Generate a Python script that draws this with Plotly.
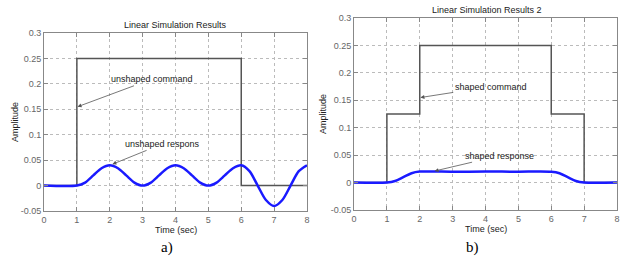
import plotly.graph_objects as go

# ---- data ----
cmd_t_a = [0, 1, 6, 8]
cmd_v_a = [0, 0.25, 0, 0]

resp_t = [0, 1, 1.25, 1.5, 1.75, 2, 2.25, 2.5, 2.75, 3, 3.25, 3.5, 3.75, 4,
          4.25, 4.5, 4.75, 5, 5.25, 5.5, 5.75, 6, 6.25, 6.5, 6.75, 7,
          7.25, 7.5, 7.75, 8]
resp_a = [0, 0, 0.0059, 0.02, 0.0341, 0.04, 0.0341, 0.02, 0.0059, 0, 0.0059, 0.02, 0.0341, 0.04,
          0.0341, 0.02, 0.0059, 0, 0.0059, 0.02, 0.0341, 0.04, 0.0283, 0, -0.0283, -0.04,
          -0.0283, 0, 0.0283, 0.04]

cmd_t_b = [0, 1, 2, 6, 7, 8]
cmd_v_b = [0, 0.125, 0.25, 0.125, 0, 0]

resp_t_b = [0, 1, 1.25, 1.5, 1.75, 2, 3, 4, 5, 6, 6.25, 6.5, 6.75, 7, 8]
resp_b = [0, 0, 0.0029, 0.01, 0.0171, 0.02, 0.0198, 0.02, 0.0199, 0.0198, 0.0171, 0.01, 0.0029, 0, 0]

x_ticks = [0, 1, 2, 3, 4, 5, 6, 7, 8]
y_ticks = [-0.05, 0, 0.05, 0.1, 0.15, 0.2, 0.25, 0.3]
y_tick_text = ["-0.05", "0", "0.05", "0.1", "0.15", "0.2", "0.25", "0.3"]

CMD_COLOR = "#555555"
RESP_COLOR = "#1a1aff"
FONT = "Arial, Liberation Sans, sans-serif"

fig = go.Figure()
fig.add_trace(go.Scatter(x=cmd_t_a, y=cmd_v_a, mode="lines", line=dict(color=CMD_COLOR, width=1.5, shape="hv"),
                         xaxis="x", yaxis="y", showlegend=False))
fig.add_trace(go.Scatter(x=resp_t, y=resp_a, mode="lines", line=dict(color=RESP_COLOR, width=2.5, shape="spline", smoothing=0.8),
                         xaxis="x", yaxis="y", showlegend=False))
fig.add_trace(go.Scatter(x=cmd_t_b, y=cmd_v_b, mode="lines", line=dict(color=CMD_COLOR, width=1.5, shape="hv"),
                         xaxis="x2", yaxis="y2", showlegend=False))
fig.add_trace(go.Scatter(x=resp_t_b, y=resp_b, mode="lines", line=dict(color=RESP_COLOR, width=2.5, shape="spline", smoothing=0.8),
                         xaxis="x2", yaxis="y2", showlegend=False))

ax_common = dict(showline=True, linecolor="#888888", linewidth=1, mirror="ticks", ticks="inside",
                 ticklen=4, tickcolor="#888888", showgrid=True, gridcolor="#bbbbbb", griddash="dot",
                 gridwidth=1, zeroline=False, automargin=False,
                 tickfont=dict(size=9, color="#666666", family=FONT))

fig.update_layout(
    width=624, height=260, margin=dict(l=0, r=0, t=0, b=0, pad=0),
    paper_bgcolor="white", plot_bgcolor="white",
    xaxis=dict(domain=[44/624, 307/624], range=[0, 8], tickvals=x_ticks, anchor="y", **ax_common),
    yaxis=dict(domain=[1-211/260, 1-33/260], range=[-0.05, 0.3], tickvals=y_ticks, ticktext=y_tick_text, anchor="x", **ax_common),
    xaxis2=dict(domain=[354/624, 617/624], range=[0, 8], tickvals=x_ticks, anchor="y2", **ax_common),
    yaxis2=dict(domain=[1-210/260, 1-18/260], range=[-0.05, 0.3], tickvals=y_ticks, ticktext=y_tick_text, anchor="x2", **ax_common),
)

lab = dict(size=9, color="#222222", family=FONT)
ann = [
    dict(text="Linear Simulation Results", x=175, y=25),
    dict(text="Linear Simulation Results 2", x=487, y=10),
    dict(text="Time (sec)", x=176, y=230),
    dict(text="Time (sec)", x=486, y=229),
]
for a in ann:
    fig.add_annotation(text=a["text"], xref="paper", yref="paper", x=a["x"]/624, y=1-a["y"]/260,
                       showarrow=False, font=lab, xanchor="center", yanchor="middle")
fig.add_annotation(text="Amplitude", xref="paper", yref="paper", x=15/624, y=1-122/260, textangle=-90,
                   showarrow=False, font=lab, xanchor="center", yanchor="middle")
fig.add_annotation(text="Amplitude", xref="paper", yref="paper", x=323/624, y=1-114/260, textangle=-90,
                   showarrow=False, font=lab, xanchor="center", yanchor="middle")
serif = dict(size=15, color="black", family="Liberation Serif, Times New Roman, serif")
fig.add_annotation(text="a)", xref="paper", yref="paper", x=167/624, y=1-247/260, showarrow=False,
                   font=serif, xanchor="center", yanchor="middle")
fig.add_annotation(text="b)", xref="paper", yref="paper", x=472/624, y=1-247/260, showarrow=False,
                   font=serif, xanchor="center", yanchor="middle")

# arrow annotations: head (x, y) and text centre (tx, ty), in data units
arrows = [
    dict(text="unshaped command", x=1.02, y=0.155, tx=3.27, ty=0.209, xr="x", yr="y"),
    dict(text="unshaped respons", x=2.08, y=0.042, tx=3.61, ty=0.082, xr="x", yr="y"),
    dict(text="shaped command", x=2.02, y=0.155, tx=4.16, ty=0.175, xr="x2", yr="y2"),
    dict(text="shaped response", x=2.45, y=0.021, tx=4.43, ty=0.049, xr="x2", yr="y2"),
]
for a in arrows:
    fig.add_annotation(text=a["text"], x=a["x"], y=a["y"], xref=a["xr"], yref=a["yr"],
                       ax=a["tx"], ay=a["ty"], axref=a["xr"], ayref=a["yr"],
                       showarrow=True, arrowhead=2, arrowsize=1,
                       arrowwidth=0.8, arrowcolor="#555555", font=lab, standoff=0)

fig.write_html("out.html", config={"displayModeBar": False},
               post_script="document.body.style.margin='0';document.body.style.padding='0';")
